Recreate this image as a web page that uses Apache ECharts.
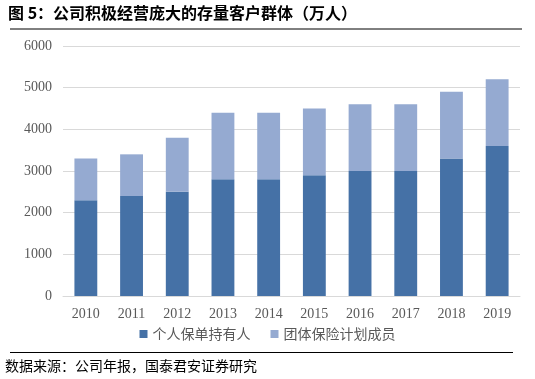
<!DOCTYPE html>
<html><head><meta charset="utf-8">
<script src="https://cdn.jsdelivr.net/npm/echarts@6/dist/echarts.min.js"></script>
<style>html,body{margin:0;padding:0;background:#fff}#c{width:535px;height:379px}</style>
</head><body><div id="c"></div>
<script>
var years = ['2010','2011','2012','2013','2014','2015','2016','2017','2018','2019'];
var individual = [2300,2400,2500,2800,2800,2900,3000,3000,3300,3600];
var group = [1000,1000,1300,1600,1600,1600,1600,1600,1600,1600];
var seriesNames = ['个人保单持有人','团体保险计划成员'];
var titleText = '图 5：公司积极经营庞大的存量客户群体（万人）';
var sourceText = '数据来源：公司年报，国泰君安证券研究';

var chart = echarts.init(document.getElementById('c'));
var serif = '"Liberation Serif","Times New Roman",serif';
var cjk = '"Noto Sans CJK SC",sans-serif';
chart.setOption({
  animation:false,
  grid:{left:63,right:15,top:46,bottom:83},
  xAxis:{type:'category',data:years,
    axisLine:{lineStyle:{color:'#d9d9d9'}},axisTick:{show:false},
    axisLabel:{color:'#595959',fontFamily:serif,fontSize:14,margin:11}},
  yAxis:{type:'value',min:0,max:6000,interval:1000,
    axisLine:{show:false},axisTick:{show:false},
    splitLine:{lineStyle:{color:'#d9d9d9'}},
    axisLabel:{color:'#595959',fontFamily:serif,fontSize:14,margin:11,formatter:function(v){return String(v);}}},
  legend:{bottom:33,left:'center',itemWidth:8,itemHeight:8,itemGap:20,icon:'rect',
    textStyle:{color:'#595959',fontFamily:cjk,fontSize:14},
    data:seriesNames},
  series:[
    {name:seriesNames[0],type:'bar',stack:'a',data:individual,barCategoryGap:'50%',itemStyle:{color:'#4571a6'}},
    {name:seriesNames[1],type:'bar',stack:'a',data:group,barCategoryGap:'50%',itemStyle:{color:'#95aad1'}}
  ],
  graphic:[
    {type:'text',left:8,top:5,style:{text:titleText,fontFamily:cjk,fontWeight:'bold',fontSize:16,fill:'#000'}},
    {type:'line',shape:{x1:10,y1:29,x2:522,y2:29},style:{stroke:'#000',lineWidth:1}},
    {type:'line',shape:{x1:10,y1:352.5,x2:513,y2:352.5},style:{stroke:'#000',lineWidth:1}},
    {type:'text',left:5,top:359,style:{text:sourceText,fontFamily:cjk,fontSize:14,fill:'#000'}}
  ]
});
</script></body></html>
